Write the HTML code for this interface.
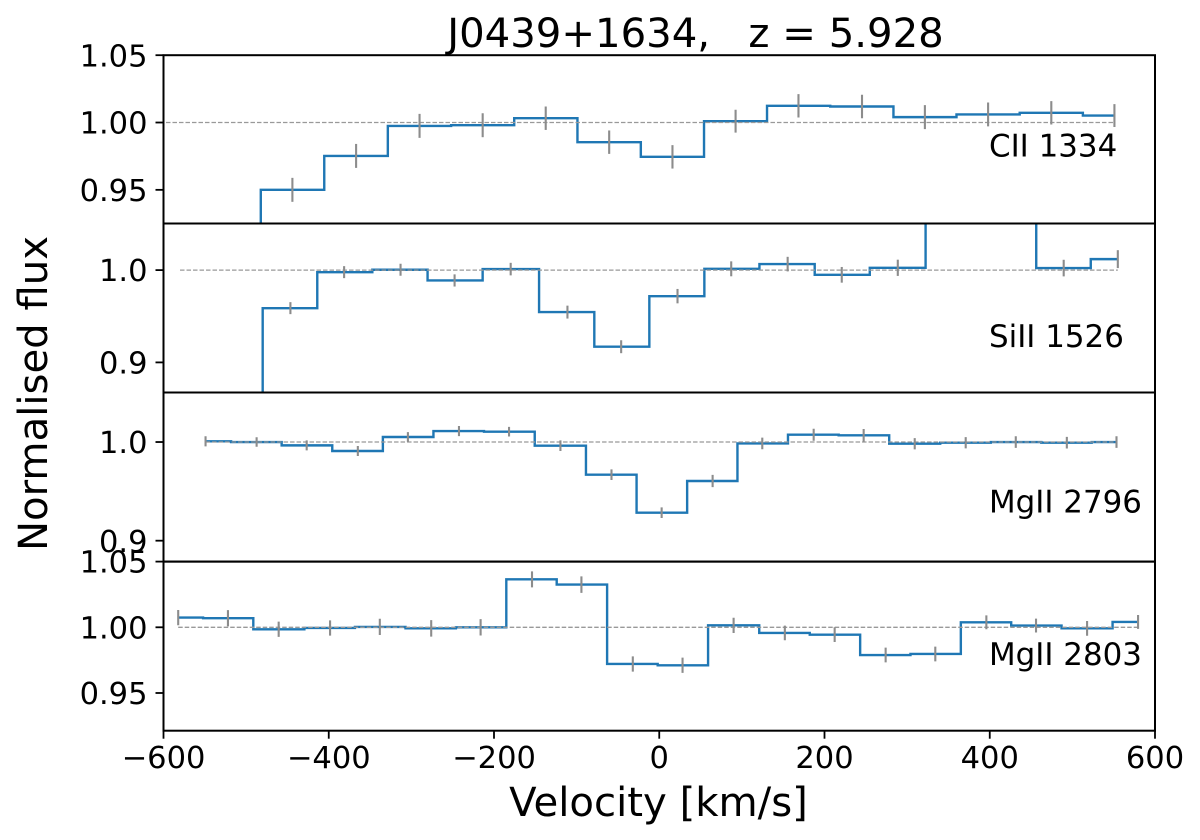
<!DOCTYPE html>
<html lang="en">
<head>
<meta charset="utf-8">
<title>J0439+1634 absorption line profiles</title>
<style>
  html, body { margin: 0; padding: 0; background: #fff; }
  svg { display: block; }
  text { font-family: "DejaVu Sans", "Liberation Sans", sans-serif; fill: #000; }
</style>
</head>
<body>
<svg id="chart" width="1200" height="840" viewBox="0 0 1200 840" xmlns="http://www.w3.org/2000/svg">
  <rect x="0" y="0" width="1200" height="840" fill="#ffffff"></rect>
  <text x="695.5" y="47" font-size="40.2" text-anchor="middle" style="white-space:pre">J0439+1634,   z = 5.928</text>
  <text x="658.5" y="816" font-size="40.2" text-anchor="middle">Velocity [km/s]</text>
  <text transform="translate(47 393.5) rotate(-90)" font-size="40.2" text-anchor="middle">Normalised flux</text>
</svg>
<script>
// ---- data: CII 1334 ----
const ciiVelocity = [-597, -520.5, -444, -366.9, -290.1, -213.7, -137.4, -60.6, 16, 92.4, 168.5, 245.4, 321.5, 398, 474.5, 550.9];
const ciiFlux = [0.86, 0.90, 0.950, 0.9752, 0.9975, 0.998, 1.0032, 0.9854, 0.9745, 1.001, 1.0124, 1.0119, 1.004, 1.006, 1.0072, 1.0052];
const ciiError = [0.009, 0.009, 0.0089, 0.0089, 0.0089, 0.0089, 0.0087, 0.0087, 0.0087, 0.0085, 0.0087, 0.0087, 0.0089, 0.0089, 0.0087, 0.0085];
const ciiTicks = [0.95, 1.00, 1.05];
const ciiTickLabels = ["0.95", "1.00", "1.05"];

// ---- data: SiII 1526 ----
const siiiVelocity = [-580, -513.5, -446.4, -381.4, -313.1, -247.7, -179.8, -111.1, -46.1, 22.1, 87.1, 155.4, 220.9, 288.7, 356, 423, 489.5, 555];
const siiiFlux = [0.862, 0.80, 0.9588, 0.9978, 1.0004, 0.9888, 1.0011, 0.9545, 0.917, 0.9718, 1.0014, 1.0065, 0.9949, 1.0025, 1.09, 1.09, 1.0022, 1.0119];
const siiiError = [0.0065, 0.0065, 0.0065, 0.0065, 0.0065, 0.0066, 0.0068, 0.007, 0.007, 0.0078, 0.0081, 0.0079, 0.0085, 0.0088, 0.009, 0.009, 0.009, 0.0097];
const siiiTicks = [0.9, 1.0];
const siiiTickLabels = ["0.9", "1.0"];

// ---- data: MgII 2796 ----
const mg2796Velocity = [-549.1, -487.3, -426.7, -364.8, -304.2, -242.4, -181.8, -119.6, -57.8, 2.9, 64.6, 124.7, 186.9, 247.4, 309.2, 370.9, 431.5, 493.3, 553.4];
const mg2796Flux = [1.0007, 1.0, 0.9966, 0.9909, 1.0051, 1.0111, 1.0105, 0.9963, 0.9669, 0.9284, 0.9605, 0.9986, 1.0074, 1.0068, 0.9983, 0.9993, 1.0, 0.9993, 1.0];
const mg2796Error = [0.0051, 0.0048, 0.0051, 0.0051, 0.0049, 0.0051, 0.0049, 0.0054, 0.0054, 0.0054, 0.0062, 0.0059, 0.0061, 0.0064, 0.0057, 0.0057, 0.0059, 0.0059, 0.0059];
const mg2796Ticks = [0.9, 1.0];
const mg2796TickLabels = ["0.9", "1.0"];

// ---- data: MgII 2803 ----
const mg2803Velocity = [-582.2, -522, -460.6, -398.4, -338.2, -276, -216.2, -154, -94.2, -32, 28.2, 90, 152, 212.3, 274, 334.1, 395.9, 456, 517.8, 579.5];
const mg2803Flux = [1.0074, 1.0069, 0.9985, 0.9995, 1.0003, 0.9992, 1.0, 1.0365, 1.0325, 0.9721, 0.9711, 1.0015, 0.9957, 0.9944, 0.9789, 0.9797, 1.0038, 1.0013, 0.9992, 1.0041];
const mg2803Error = [0.0058, 0.0062, 0.0058, 0.0058, 0.0062, 0.0063, 0.0062, 0.0061, 0.0063, 0.0058, 0.0058, 0.0058, 0.0056, 0.0056, 0.0056, 0.0056, 0.0053, 0.0053, 0.0056, 0.0053];
const mg2803Ticks = [0.95, 1.00, 1.05];
const mg2803TickLabels = ["0.95", "1.00", "1.05"];

// ---- shared x axis ----
const velocityTicks = [-600, -400, -200, 0, 200, 400, 600];
const velocityTickLabels = ["\u2212600", "\u2212400", "\u2212200", "0", "200", "400", "600"];
const ionLabels = ["CII 1334", "SiII 1526", "MgII 2796", "MgII 2803"];

// ---- layout ----
const plotLeft = 163.5, plotRight = 1155;
const xMin = -600, xMax = 600;
const tickFont = 30.5, ionFont = 30.9;
const panels = [
  { top: 55.2, bottom: 223.5, yMin: 0.925, yMax: 1.05, v: ciiVelocity, f: ciiFlux, e: ciiError, t: ciiTicks, tl: ciiTickLabels, labelY: 156.5 },
  { top: 223.5, bottom: 392.5, yMin: 0.8674, yMax: 1.0505, v: siiiVelocity, f: siiiFlux, e: siiiError, t: siiiTicks, tl: siiiTickLabels, labelY: 347 },
  { top: 392.5, bottom: 561.6, yMin: 0.8788, yMax: 1.0502, v: mg2796Velocity, f: mg2796Flux, e: mg2796Error, t: mg2796Ticks, tl: mg2796TickLabels, labelY: 512.5 },
  { top: 561.6, bottom: 730.7, yMin: 0.9213, yMax: 1.05, v: mg2803Velocity, f: mg2803Flux, e: mg2803Error, t: mg2803Ticks, tl: mg2803TickLabels, labelY: 665 }
];

const NS = "http://www.w3.org/2000/svg";
const svg = document.getElementById("chart");
const defs = document.createElementNS(NS, "defs");
svg.appendChild(defs);

function xScale(v) {
  return plotLeft + (v - xMin) / (xMax - xMin) * (plotRight - plotLeft);
}
function yScale(p, f) {
  return p.top + (p.yMax - f) / (p.yMax - p.yMin) * (p.bottom - p.top);
}
function stepPath(p) {
  let d = "M" + xScale(p.v[0]).toFixed(2) + " " + yScale(p, p.f[0]).toFixed(2);
  for (let i = 1; i < p.v.length; i++) {
    const mid = xScale((p.v[i - 1] + p.v[i]) / 2).toFixed(2);
    d += "H" + mid + "V" + yScale(p, p.f[i]).toFixed(2);
  }
  d += "H" + xScale(p.v[p.v.length - 1]).toFixed(2);
  return d;
}
function attrs(el, o) {
  for (const k in o) el.setAttribute(k, o[k]);
}

panels.forEach(function (p, idx) {
  const group = document.createElementNS(NS, "g");
  
  
  svg.appendChild(group);

  const clip = document.createElementNS(NS, "clipPath");
  clip.setAttribute("id", "clip" + idx);
  const clipRect = document.createElementNS(NS, "rect");
  attrs(clipRect, { x: plotLeft, y: p.top, width: plotRight - plotLeft, height: p.bottom - p.top });
  clip.appendChild(clipRect);
  defs.appendChild(clip);

  const marks = document.createElementNS(NS, "g");
  marks.setAttribute("clip-path", "url(#clip" + idx + ")");
  
  
  group.appendChild(marks);

  const line = document.createElementNS(NS, "path");
  attrs(line, { d: stepPath(p), fill: "none", stroke: "#1f77b4", "stroke-width": 2.4, "stroke-linejoin": "miter" });
  
  
  marks.appendChild(line);

  const unity = document.createElementNS(NS, "line");
  attrs(unity, {
    x1: xScale(p.v[0]), x2: xScale(p.v[p.v.length - 1]),
    y1: yScale(p, 1), y2: yScale(p, 1),
    stroke: "#999999", "stroke-width": 1.3, "stroke-dasharray": "4.5 2"
  });
  
  
  marks.appendChild(unity);

  p.v.forEach(function (v, i) {
    const err = document.createElementNS(NS, "line");
    attrs(err, {
      x1: xScale(v), x2: xScale(v),
      y1: yScale(p, p.f[i] - p.e[i]), y2: yScale(p, p.f[i] + p.e[i]),
      stroke: "#8c8c8c", "stroke-width": 2.1
    });
    
    
    marks.appendChild(err);
  });

  const frame = document.createElementNS(NS, "rect");
  attrs(frame, {
    x: plotLeft, y: p.top, width: plotRight - plotLeft, height: p.bottom - p.top,
    fill: "none", stroke: "#000", "stroke-width": 2
  });
  
  
  group.appendChild(frame);

  p.t.forEach(function (tv, i) {
    const y = yScale(p, tv);
    const tick = document.createElementNS(NS, "line");
    attrs(tick, { x1: plotLeft - 8, x2: plotLeft, y1: y, y2: y, stroke: "#000", "stroke-width": 1.8 });
    
    
    group.appendChild(tick);

    const lab = document.createElementNS(NS, "text");
    attrs(lab, { x: plotLeft - 16, y: y + tickFont * 0.365, "text-anchor": "end", "font-size": tickFont });
    lab.textContent = p.tl[i];
    
    
    group.appendChild(lab);
  });

  const ion = document.createElementNS(NS, "text");
  attrs(ion, { x: 989, y: p.labelY, "font-size": ionFont });
  ion.textContent = ionLabels[idx];
  
  
  group.appendChild(ion);
});

velocityTicks.forEach(function (tv, i) {
  const x = xScale(tv);
  const tick = document.createElementNS(NS, "line");
  attrs(tick, { x1: x, x2: x, y1: 730.7, y2: 738.7, stroke: "#000", "stroke-width": 1.8 });
  
  
  svg.appendChild(tick);

  const lab = document.createElementNS(NS, "text");
  attrs(lab, { x: x, y: 768, "text-anchor": "middle", "font-size": tickFont });
  lab.textContent = velocityTickLabels[i];
  
  
  svg.appendChild(lab);
});
</script>
</body>
</html>
